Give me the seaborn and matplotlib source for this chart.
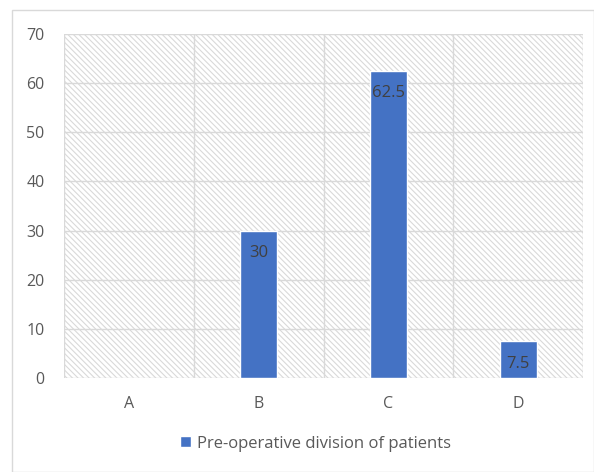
import matplotlib
matplotlib.use("Agg")
import matplotlib.pyplot as plt
from matplotlib.patches import Rectangle
import seaborn as sns
import pandas as pd

categories = ["A", "B", "C", "D"]
values = [0, 30, 62.5, 7.5]
series_name = "Pre-operative division of patients"
y_ticks = [0, 10, 20, 30, 40, 50, 60, 70]

df = pd.DataFrame({"category": categories, "value": values, "series": series_name})

sns.set_style("white")
plt.rcParams["font.family"] = ["Open Sans", "DejaVu Sans"]
plt.rcParams["hatch.linewidth"] = 0.8
plt.rcParams["hatch.color"] = "#dcdcdc"

bar_color = "#4472C4"
grid_color = "#d9d9d9"
text_color = "#595959"

fig = plt.figure(figsize=(5.94, 4.72), dpi=100)
fig.patch.set_facecolor("white")

# chart frame
fig.add_artist(Rectangle((12 / 594, 0.0), 1 - 12 / 594, 1 - 10 / 472,
                         transform=fig.transFigure, fill=False,
                         edgecolor=grid_color, linewidth=1.0))

ax = fig.add_axes([64 / 594, (472 - 378) / 472, (583 - 64) / 594, (378 - 34) / 472])

# hatched plot area background
ax.add_patch(Rectangle((0, 0), 1, 1, transform=ax.transAxes, facecolor="white",
                       edgecolor=grid_color, hatch="\\" * 6, linewidth=0, zorder=0))

sns.barplot(data=df, x="category", y="value", hue="series", palette=[bar_color],
            width=0.285, ax=ax, zorder=3, saturation=1)

ax.set_ylim(0, 70)
ax.set_xlim(-0.5, 3.5)
ax.set_yticks(y_ticks)
ax.set_xticks(range(len(categories)))
ax.set_xticklabels(categories)
ax.set_xticks([-0.5, 0.5, 1.5, 2.5, 3.5], minor=True)
ax.grid(axis="y", color=grid_color, linewidth=1.0, zorder=1)
ax.grid(axis="x", which="minor", color=grid_color, linewidth=1.0, zorder=1)
ax.grid(axis="x", which="major", visible=False)
ax.set_axisbelow(True)
for s in ax.spines.values():
    s.set_visible(False)
ax.tick_params(axis="both", which="both", length=0, labelsize=11.5, labelcolor=text_color)
ax.tick_params(axis="y", pad=14)
ax.tick_params(axis="x", pad=13)
ax.set_xlabel("")
ax.set_ylabel("")

for container in ax.containers:
    labels = ["" if v == 0 else f"{v:g}" for v in container.datavalues]
    ax.bar_label(container, labels=labels, padding=-22, fontsize=12, color="#404040")

leg = ax.legend(loc="upper center", bbox_to_anchor=(0.485, -0.124), frameon=False,
                fontsize=12, handlelength=0.65, handleheight=0.65, handletextpad=0.35)
for t in leg.get_texts():
    t.set_color(text_color)

fig.savefig("out.png", dpi=100, facecolor="white")
